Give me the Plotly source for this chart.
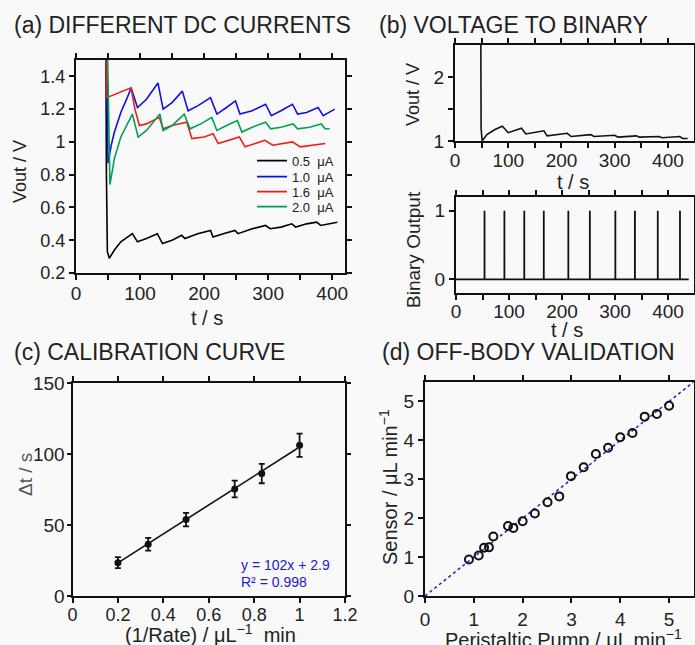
import plotly.graph_objects as go

W, H = 695, 645
FONT = "Liberation Sans, Arial, sans-serif"
TXT = "#222222"


def fx(p):
    return p / W


def fy(p):
    return 1 - p / H


# ---------------- Panel (a): different DC currents ----------------
t_05 = [0, 46.5, 47.5, 49, 52, 60, 70, 80, 88, 96, 110, 127, 135, 150, 165, 170, 190, 210, 214,
        230, 248, 253, 275, 296, 303, 320, 337, 343, 360, 376, 382, 408]
v_05 = [1.7, 1.7, 0.8, 0.33, 0.29, 0.34, 0.39, 0.42, 0.44, 0.39, 0.41, 0.44, 0.38, 0.40, 0.43,
        0.41, 0.44, 0.46, 0.42, 0.44, 0.46, 0.44, 0.47, 0.49, 0.47, 0.48, 0.50, 0.48, 0.50, 0.51,
        0.49, 0.51]

t_10 = [0, 47.5, 50, 55, 60, 70, 80, 86, 96, 110, 128, 136, 150, 166, 175, 190, 210, 220, 235,
        249, 256, 275, 296, 305, 320, 338, 346, 360, 378, 386, 404]
v_10 = [1.7, 1.7, 0.87, 0.98, 1.06, 1.18, 1.27, 1.33, 1.21, 1.26, 1.36, 1.20, 1.24, 1.31, 1.19,
        1.22, 1.27, 1.17, 1.21, 1.25, 1.17, 1.19, 1.23, 1.16, 1.19, 1.23, 1.17, 1.18, 1.21, 1.16,
        1.20]

t_16 = [0, 46, 48, 60, 75, 86, 92, 99, 110, 130, 136, 150, 173, 181, 200, 214, 222, 240, 255, 264,
        280, 295, 307, 320, 338, 350, 370, 389]
v_16 = [1.7, 1.7, 1.27, 1.29, 1.31, 1.33, 1.20, 1.10, 1.11, 1.15, 1.08, 1.10, 1.12, 1.02, 1.03,
        1.05, 0.99, 1.01, 1.03, 0.97, 0.99, 1.01, 0.98, 0.99, 1.00, 0.97, 0.98, 0.99]

t_20 = [0, 48.5, 53, 60, 70, 80, 88, 97, 110, 131, 136, 150, 169, 178, 195, 212, 220, 235, 252,
        259, 275, 296, 304, 320, 339, 346, 365, 383, 389, 396]
v_20 = [1.7, 1.7, 0.74, 0.90, 1.03, 1.11, 1.17, 1.03, 1.07, 1.17, 1.07, 1.10, 1.17, 1.08, 1.11,
        1.15, 1.07, 1.10, 1.13, 1.06, 1.09, 1.12, 1.08, 1.09, 1.11, 1.08, 1.09, 1.11, 1.08, 1.08]

series_names = ["0.5\u00a0\u00a0\u03bcA", "1.0\u00a0\u00a0\u03bcA", "1.6\u00a0\u00a0\u03bcA", "2.0\u00a0\u00a0\u03bcA"]
series_colors = ["#000000", "#1010e0", "#ee1c1c", "#00a050"]

# ---------------- Panel (b): voltage to binary ----------------
tb = [0, 48.5, 49, 51, 60, 75, 89, 100, 125, 133, 167, 173, 211, 218, 255, 261, 300, 306, 341,
      346, 383, 389, 422, 428, 437]
vb = [2.6, 2.6, 1.2, 1.0, 1.1, 1.18, 1.23, 1.13, 1.20, 1.11, 1.16, 1.08, 1.12, 1.07, 1.10, 1.07,
      1.09, 1.06, 1.08, 1.06, 1.07, 1.05, 1.07, 1.04, 1.04]

spike_times = [53.8, 91.3, 128.8, 165.6, 211.9, 252.5, 300.6, 337.5, 380.6, 422.5]
binary_end = 439

# ---------------- Panel (c): calibration curve ----------------
inv_rate = [0.2, 1 / 3, 0.5, 1 / 1.4, 1 / 1.2, 1.0]
delta_t = [23.5, 36.5, 53.8, 75.4, 86.2, 106.2]
delta_err = [3.9, 4.5, 4.7, 5.9, 6.8, 8.2]
fit_slope, fit_intercept = 102, 2.9
fit_x = [0.2, 1.0]

# ---------------- Panel (d): off-body validation ----------------
pump = [0.90, 1.10, 1.21, 1.31, 1.40, 1.70, 1.81, 2.00, 2.25, 2.51, 2.75, 2.99, 3.25, 3.50, 3.75,
        4.00, 4.25, 4.50, 4.75, 5.00]
sensor = [0.94, 1.04, 1.24, 1.25, 1.53, 1.80, 1.75, 1.92, 2.12, 2.41, 2.56, 3.08, 3.31, 3.65, 3.81,
          4.08, 4.19, 4.61, 4.68, 4.89]
ref_line = [0, 5.5]

fig = go.Figure()

# panel a traces with separate legends
for i, (t, v) in enumerate([(t_05, v_05), (t_10, v_10), (t_16, v_16), (t_20, v_20)]):
    fig.add_trace(go.Scatter(x=t, y=v, mode="lines", name=series_names[i],
                             line=dict(color=series_colors[i], width=1.6),
                             xaxis="x", yaxis="y",
                             legend="legend" if i == 0 else f"legend{i+1}"))

fig.add_trace(go.Scatter(x=tb, y=vb, mode="lines", line=dict(color="#111", width=1.6),
                         xaxis="x2", yaxis="y2", showlegend=False))

bx, by = [0], [0]
for s in spike_times:
    bx += [s, s, s]
    by += [0, 1, 0]
bx.append(binary_end)
by.append(0)
fig.add_trace(go.Scatter(x=bx, y=by, mode="lines", line=dict(color="#111", width=1.8),
                         xaxis="x3", yaxis="y3", showlegend=False))

fig.add_trace(go.Scatter(x=fit_x, y=[fit_slope * x + fit_intercept for x in fit_x], mode="lines",
                         line=dict(color="#111", width=1.6), xaxis="x4", yaxis="y4",
                         showlegend=False))
fig.add_trace(go.Scatter(x=inv_rate, y=delta_t, mode="markers",
                         marker=dict(color="#111", size=7),
                         error_y=dict(type="data", array=delta_err, color="#111", thickness=1.8,
                                      width=3),
                         xaxis="x4", yaxis="y4", showlegend=False))

fig.add_trace(go.Scatter(x=ref_line, y=ref_line, mode="lines",
                         line=dict(color="#2020cc", width=1.5, dash="dot"),
                         xaxis="x5", yaxis="y5", showlegend=False))
fig.add_trace(go.Scatter(x=pump, y=sensor, mode="markers",
                         marker=dict(symbol="circle-open", color="#111", size=8,
                                     line=dict(width=2, color="#111")),
                         xaxis="x5", yaxis="y5", showlegend=False))


def axis(domain, rng, tickvals, ticktext, size, anchor, standoff=0, ticklen=5):
    return dict(domain=domain, range=rng, tickvals=tickvals, ticktext=ticktext,
                showline=True, linecolor="#111", linewidth=2, mirror="ticks",
                ticks="outside", ticklen=ticklen, tickwidth=1.5, tickcolor="#111",
                showgrid=False, zeroline=False, anchor=anchor, automargin=False,
                ticklabelstandoff=standoff,
                tickfont=dict(family=FONT, size=size, color=TXT))


t50 = list(range(0, 451, 50))
t50_txt = [str(v) if v % 100 == 0 else "" for v in t50]

layout = dict(
    width=W, height=H, autosize=False,
    margin=dict(l=0, r=0, t=0, b=0, pad=0, autoexpand=False),
    paper_bgcolor="#f9f9f9", plot_bgcolor="#f9f9f9",
    font=dict(family=FONT, color=TXT),
    xaxis=axis([fx(76), fx(345)], [0, 420], t50[:9], t50_txt[:9], 19, "y", standoff=-3),
    yaxis=axis([fy(273), fy(60)], [0.2, 1.5], [0.2, 0.4, 0.6, 0.8, 1.0, 1.2, 1.4],
               ["0.2", "0.4", "0.6", "0.8", "1", "1.2", "1.4"], 18, "x"),
    xaxis2=axis([fx(455), fx(693.5)], [0, 448], t50[:9], t50_txt[:9], 19, "y2", standoff=-4),
    yaxis2=axis([fy(141), fy(45)], [1, 2.5], [1, 1.5, 2], ["1", "", "2"], 19, "x2"),
    xaxis3=axis([fx(456), fx(693.5)], [0, 448], t50[:9], t50_txt[:9], 19, "y3", standoff=-5),
    yaxis3=axis([fy(293), fy(197)], [-0.2, 1.2], [0, 1], ["0", "1"], 19, "x3"),
    xaxis4=axis([fx(72.5), fx(345)], [0, 1.2], [0, 0.2, 0.4, 0.6, 0.8, 1.0, 1.2],
                ["0", "0.2", "0.4", "0.6", "0.8", "1", "1.2"], 18, "y4", standoff=-4),
    yaxis4=axis([fy(596), fy(383)], [0, 150], [0, 50, 100, 150], ["0", "50", "100", "150"], 19,
                "x4", standoff=-2, ticklen=4),
    xaxis5=axis([fx(425), fx(693.5)], [0, 5.5], [0, 1, 2, 3, 4, 5], ["0", "1", "2", "3", "4", "5"], 19, "y5"),
    yaxis5=axis([fy(596), fy(382)], [0, 5.5], [0, 1, 2, 3, 4, 5], ["0", "1", "2", "3", "4", "5"], 19, "x5"),
)

leg_y = [160.7, 176.7, 191.7, 206.7]
for i, yy in enumerate(leg_y):
    key = "legend" if i == 0 else f"legend{i+1}"
    layout[key] = dict(x=fx(252), y=fy(yy), xanchor="left", yanchor="middle",
                       bgcolor="rgba(0,0,0,0)", borderwidth=0,
                       font=dict(family=FONT, size=13, color=TXT))

fig.update_layout(**layout)


def ann(text, x, y, size, angle=0, xanchor="center", color=TXT):
    fig.add_annotation(text=text, x=fx(x), y=fy(y), xref="paper", yref="paper",
                       xanchor=xanchor, yanchor="middle", showarrow=False, textangle=angle,
                       font=dict(family=FONT, size=size, color=color))


# panel titles
ann("(a) DIFFERENT DC CURRENTS", 12, 25, 23, xanchor="left")
ann("(b) VOLTAGE TO BINARY", 377, 25, 23, xanchor="left")
ann("(c) CALIBRATION CURVE", 12, 352, 23, xanchor="left")
ann("(d) OFF-BODY VALIDATION", 380, 352, 23, xanchor="left")

# axis titles
ann("Vout / V", 20, 172, 18, angle=-90)
ann("t / s", 207, 318, 20)
ann("Vout / V", 413, 95, 18, angle=-90)
ann("t / s", 573, 182, 20)
ann("Binary Output", 413, 250, 19, angle=-90)
ann("t / s", 567, 330, 20)
ann("\u0394t / s", 25, 475, 19, angle=-90, color="#555555")
ann("(1/Rate) / \u03bcL<sup>\u22121</sup>\u00a0\u00a0min", 210, 633, 20)
ann("Sensor / \u03bcL min<sup>\u22121</sup>", 388, 487, 20, angle=-90)
ann("Peristaltic Pump / \u03bcL min<sup>\u22121</sup>", 563, 638, 20)

# fit annotation
ann(f"y = {fit_slope}x + {fit_intercept}", 239, 565, 14, xanchor="left", color="#2020cc")
ann("R\u00b2 = 0.998", 239, 582, 14, xanchor="left", color="#2020cc")

fig.write_html(
    "out.html",
    config={"displayModeBar": False, "responsive": False},
    post_script="document.body.style.margin='0';document.body.style.padding='0';"
                "document.body.style.overflow='hidden';",
)
